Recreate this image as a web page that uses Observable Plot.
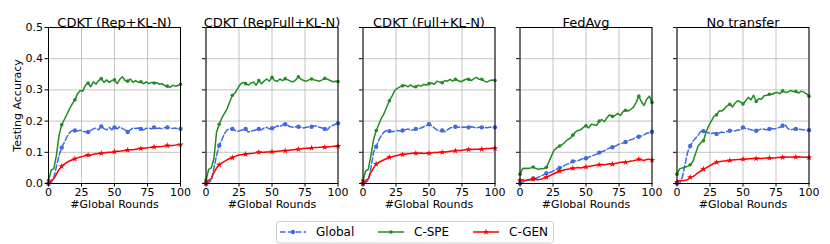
<!DOCTYPE html>
<html><head><meta charset="utf-8">
<script src="https://cdn.jsdelivr.net/npm/d3@7"></script>
<script src="https://cdn.jsdelivr.net/npm/@observablehq/plot@0.6"></script>
<style>
body{margin:0;background:#fff;font-family:"DejaVu Sans",sans-serif;}
#wrap{position:relative;width:830px;height:244px;overflow:hidden;}
#row{position:absolute;left:0;top:0;display:flex;}
#row svg{flex:none;}
#legend{position:absolute;left:276px;top:221px;}
</style></head>
<body><div id="wrap"><div id="row"></div><div id="legend"></div></div>
<script>
const panelTitles = ["CDKT (Rep+KL-N)", "CDKT (RepFull+KL-N)", "CDKT (Full+KL-N)", "FedAvg", "No transfer"];
const seriesNames = ["Global", "C-SPE", "C-GEN"];
const seriesColors = ["#4169e1", "#228b22", "#ff0000"];
const xTicks = [0, 25, 50, 75, 100];
const yTicks = [0, 0.1, 0.2, 0.3, 0.4, 0.5];
const rounds = d3.range(0, 101, 2);

// Panel 1: CDKT (Rep+KL-N)
const repGlobal = [0.0,0.004,0.018,0.055,0.09,0.115,0.132,0.15,0.163,0.17,
  0.17,0.168,0.171,0.167,0.166,0.165,0.17,0.175,0.178,0.172,
  0.183,0.176,0.172,0.18,0.172,0.18,0.175,0.182,0.176,0.172,
  0.165,0.172,0.178,0.176,0.178,0.175,0.172,0.177,0.178,0.175,
  0.18,0.176,0.178,0.175,0.179,0.18,0.178,0.176,0.178,0.175,0.175];
const repSpe = [0.01,0.042,0.048,0.09,0.155,0.188,0.205,0.222,0.24,0.255,
  0.268,0.288,0.298,0.296,0.315,0.322,0.31,0.326,0.318,0.33,
  0.336,0.324,0.332,0.324,0.33,0.332,0.32,0.334,0.342,0.33,
  0.328,0.335,0.324,0.33,0.324,0.326,0.32,0.326,0.32,0.324,
  0.322,0.323,0.318,0.32,0.314,0.312,0.308,0.315,0.312,0.314,0.318];
const repGen = [0.0,0.01,0.015,0.03,0.045,0.055,0.062,0.068,0.072,0.076,
  0.079,0.082,0.085,0.087,0.09,0.091,0.09,0.094,0.095,0.096,
  0.097,0.098,0.099,0.1,0.1,0.102,0.103,0.103,0.105,0.106,
  0.107,0.108,0.108,0.11,0.111,0.112,0.113,0.114,0.115,0.116,
  0.117,0.118,0.118,0.119,0.12,0.122,0.121,0.122,0.123,0.124,0.125];

// Panel 2: CDKT (RepFull+KL-N)
const repFullGlobal = [0.0,0.003,0.01,0.05,0.09,0.122,0.14,0.16,0.172,0.175,
  0.175,0.17,0.167,0.17,0.172,0.175,0.165,0.168,0.17,0.172,
  0.175,0.172,0.178,0.18,0.175,0.177,0.18,0.185,0.182,0.188,
  0.19,0.186,0.182,0.18,0.182,0.182,0.18,0.178,0.18,0.181,
  0.182,0.184,0.184,0.18,0.178,0.175,0.172,0.182,0.186,0.19,0.193];
const repFullSpe = [0.01,0.045,0.05,0.08,0.165,0.19,0.21,0.225,0.24,0.262,
  0.283,0.29,0.305,0.318,0.324,0.32,0.315,0.322,0.325,0.315,
  0.33,0.32,0.328,0.335,0.328,0.34,0.33,0.328,0.335,0.33,
  0.336,0.332,0.328,0.326,0.332,0.342,0.334,0.33,0.328,0.332,
  0.335,0.332,0.33,0.328,0.332,0.337,0.334,0.33,0.326,0.328,0.327];
const repFullGen = [0.0,0.01,0.015,0.035,0.05,0.06,0.066,0.071,0.076,0.08,
  0.083,0.087,0.09,0.092,0.093,0.094,0.095,0.096,0.097,0.099,
  0.1,0.1,0.1,0.101,0.101,0.102,0.102,0.103,0.104,0.105,
  0.105,0.106,0.107,0.108,0.109,0.11,0.111,0.112,0.113,0.113,
  0.114,0.115,0.115,0.116,0.116,0.116,0.117,0.118,0.119,0.119,0.12];

// Panel 3: CDKT (Full+KL-N)
const fullGlobal = [0.0,0.003,0.01,0.05,0.1,0.118,0.14,0.155,0.165,0.17,
  0.168,0.166,0.168,0.17,0.168,0.17,0.172,0.175,0.17,0.172,
  0.175,0.176,0.178,0.182,0.186,0.19,0.185,0.178,0.172,0.168,
  0.17,0.166,0.172,0.178,0.18,0.182,0.18,0.18,0.181,0.18,
  0.18,0.182,0.18,0.178,0.18,0.18,0.18,0.179,0.18,0.18,0.18];
const fullSpe = [0.01,0.04,0.045,0.09,0.14,0.17,0.19,0.21,0.225,0.245,
  0.265,0.28,0.298,0.305,0.31,0.313,0.315,0.31,0.316,0.31,
  0.31,0.315,0.312,0.318,0.315,0.32,0.322,0.318,0.328,0.325,
  0.323,0.33,0.328,0.334,0.328,0.334,0.33,0.326,0.33,0.334,
  0.334,0.33,0.336,0.34,0.334,0.334,0.328,0.325,0.33,0.332,0.33];
const fullGen = [0.0,0.01,0.015,0.035,0.05,0.062,0.068,0.072,0.076,0.08,
  0.084,0.086,0.088,0.09,0.092,0.093,0.094,0.095,0.096,0.097,
  0.097,0.097,0.098,0.096,0.097,0.097,0.098,0.099,0.099,0.1,
  0.1,0.101,0.102,0.103,0.104,0.105,0.106,0.106,0.107,0.108,
  0.109,0.109,0.11,0.11,0.11,0.11,0.111,0.112,0.112,0.113,0.113];

// Panel 4: FedAvg
const fedGlobal = [0.0,0.005,0.008,0.01,0.012,0.016,0.017,0.02,0.025,0.028,
  0.033,0.035,0.037,0.042,0.047,0.05,0.053,0.059,0.062,0.065,
  0.071,0.072,0.073,0.077,0.08,0.081,0.084,0.088,0.091,0.094,
  0.099,0.102,0.105,0.11,0.114,0.116,0.119,0.124,0.128,0.13,
  0.133,0.137,0.14,0.143,0.148,0.15,0.152,0.156,0.161,0.163,0.166];
const fedSpe = [0.03,0.048,0.049,0.048,0.05,0.053,0.048,0.046,0.047,0.048,
  0.052,0.07,0.09,0.108,0.115,0.12,0.125,0.132,0.14,0.145,
  0.155,0.165,0.17,0.172,0.18,0.185,0.178,0.19,0.188,0.186,
  0.2,0.205,0.198,0.212,0.22,0.215,0.218,0.225,0.218,0.23,
  0.235,0.232,0.238,0.245,0.26,0.28,0.262,0.25,0.27,0.28,0.26];
const fedGen = [0.01,0.012,0.01,0.012,0.013,0.014,0.013,0.012,0.014,0.017,
  0.02,0.024,0.028,0.032,0.036,0.04,0.042,0.044,0.046,0.047,
  0.049,0.05,0.051,0.05,0.052,0.053,0.055,0.056,0.058,0.059,
  0.06,0.061,0.06,0.062,0.063,0.062,0.064,0.066,0.068,0.068,
  0.068,0.07,0.072,0.073,0.075,0.078,0.076,0.074,0.077,0.078,0.075];

// Panel 5: No transfer
const noGlobal = [0.0,0.0,0.02,0.06,0.1,0.12,0.135,0.145,0.155,0.167,
  0.168,0.165,0.162,0.16,0.162,0.159,0.162,0.165,0.163,0.167,
  0.169,0.17,0.168,0.172,0.17,0.18,0.176,0.175,0.172,0.17,
  0.169,0.172,0.175,0.174,0.172,0.175,0.176,0.175,0.178,0.18,
  0.185,0.188,0.176,0.172,0.174,0.175,0.174,0.173,0.172,0.171,0.171];
const noSpe = [0.03,0.047,0.05,0.052,0.055,0.06,0.07,0.095,0.12,0.13,
  0.137,0.164,0.185,0.2,0.215,0.22,0.233,0.232,0.24,0.249,
  0.254,0.245,0.258,0.265,0.262,0.255,0.265,0.276,0.268,0.283,
  0.263,0.272,0.27,0.281,0.283,0.286,0.286,0.29,0.292,0.288,
  0.297,0.292,0.293,0.298,0.295,0.295,0.29,0.296,0.293,0.288,0.28];
const noGen = [0.005,0.01,0.01,0.01,0.012,0.02,0.022,0.028,0.035,0.04,
  0.046,0.05,0.055,0.06,0.064,0.068,0.07,0.071,0.072,0.073,
  0.074,0.075,0.076,0.077,0.077,0.078,0.078,0.079,0.079,0.08,
  0.08,0.081,0.08,0.081,0.082,0.082,0.082,0.082,0.083,0.083,
  0.084,0.084,0.085,0.085,0.084,0.085,0.086,0.085,0.084,0.084,0.083];

const panelSeries = [
  [repGlobal, repSpe, repGen],
  [repFullGlobal, repFullSpe, repFullGen],
  [fullGlobal, fullSpe, fullGen],
  [fedGlobal, fedSpe, fedGen],
  [noGlobal, noSpe, noGen]
];

const FONT = "DejaVu Sans";
const lineStyles = [
  {strokeDasharray: "5.5,2.4", symbol: "circle", r: 2.2},
  {strokeDasharray: null, symbol: "circle", r: 1.8},
  {strokeDasharray: null, symbol: "star", r: 2.0}
];

function panel(i) {
  const first = i === 0;
  const mL = first ? 48 : 12.5, mR = 12.5;
  const marks = [
    Plot.gridX(xTicks, {stroke: "#b0b0b0", strokeOpacity: 0.75, strokeWidth: 1}),
    Plot.gridY(yTicks, {stroke: "#b0b0b0", strokeOpacity: 0.75, strokeWidth: 1}),
  ];
  panelSeries[i].forEach((vals, k) => {
    const data = vals.map((v, j) => ({round: rounds[j], acc: v}));
    const st = lineStyles[k];
    marks.push(Plot.line(data, {x: "round", y: "acc", stroke: seriesColors[k], strokeWidth: 1.5,
      strokeDasharray: st.strokeDasharray}));
    marks.push(Plot.dot(data.filter(d => d.round % 10 === 0), {x: "round", y: "acc",
      fill: seriesColors[k], stroke: "none", symbol: st.symbol, r: st.r}));
  });
  marks.push(Plot.frame({stroke: "black", strokeWidth: 1}));
  marks.push(Plot.axisX(xTicks, {tickSize: 3.5, tickPadding: 1, fontSize: 11, label: null, stroke: "black"}));
  marks.push(Plot.axisY(yTicks, {tickSize: 3.5, tickPadding: 2, fontSize: 11, label: null,
    tickFormat: first ? d3.format(".1f") : () => "", stroke: "black"}));
  marks.push(Plot.text([panelTitles[i]], {frameAnchor: "top", dy: -9.5, fontSize: 13, fill: "black"}));
  marks.push(Plot.text(["#Global Rounds"], {frameAnchor: "bottom", dy: 24, fontSize: 11, fill: "black"}));
  if (first) marks.push(Plot.text(["Testing Accuracy"], {frameAnchor: "left", dx: -31, rotate: -90,
    textAnchor: "middle", fontSize: 11, fill: "black"}));
  return Plot.plot({
    width: mL + 132 + mR,
    height: 216,
    marginLeft: mL, marginRight: mR, marginTop: 27, marginBottom: 33,
    x: {domain: [0, 100]},
    y: {domain: [0, 0.5]},
    style: {fontFamily: FONT, fontSize: "11px", color: "black", background: "transparent", overflow: "visible"},
    marks
  });
}

const row = document.getElementById("row");
for (let i = 0; i < panelTitles.length; i++) row.appendChild(panel(i));

// Legend
const ns = "http://www.w3.org/2000/svg";
const lg = document.createElementNS(ns, "svg");
lg.setAttribute("width", 278); lg.setAttribute("height", 23);
lg.style.fontFamily = FONT;
const box = document.createElementNS(ns, "rect");
box.setAttribute("x", 0.5); box.setAttribute("y", 0.5); box.setAttribute("width", 277); box.setAttribute("height", 21.5);
box.setAttribute("rx", 2.5); box.setAttribute("fill", "white"); box.setAttribute("stroke", "#d0d0d0");
lg.appendChild(box);
const lineX = [4, 102, 197], textX = [40, 138, 233];
seriesNames.forEach((name, k) => {
  const ln = document.createElementNS(ns, "line");
  ln.setAttribute("x1", lineX[k]); ln.setAttribute("x2", lineX[k] + 26);
  ln.setAttribute("y1", 11); ln.setAttribute("y2", 11);
  ln.setAttribute("stroke", seriesColors[k]); ln.setAttribute("stroke-width", 1.5);
  if (lineStyles[k].strokeDasharray) ln.setAttribute("stroke-dasharray", lineStyles[k].strokeDasharray);
  lg.appendChild(ln);
  const sym = document.createElementNS(ns, "path");
  const sz = Math.PI * lineStyles[k].r * lineStyles[k].r;
  sym.setAttribute("d", d3.symbol(lineStyles[k].symbol === "star" ? d3.symbolStar : d3.symbolCircle, sz)());
  sym.setAttribute("transform", `translate(${lineX[k] + 13},11)`);
  sym.setAttribute("fill", seriesColors[k]);
  lg.appendChild(sym);
  const t = document.createElementNS(ns, "text");
  t.setAttribute("x", textX[k]); t.setAttribute("y", 11); t.setAttribute("dy", "0.35em");
  t.setAttribute("font-size", 12); t.textContent = name;
  lg.appendChild(t);
});
document.getElementById("legend").appendChild(lg);
</script>
</body></html>
